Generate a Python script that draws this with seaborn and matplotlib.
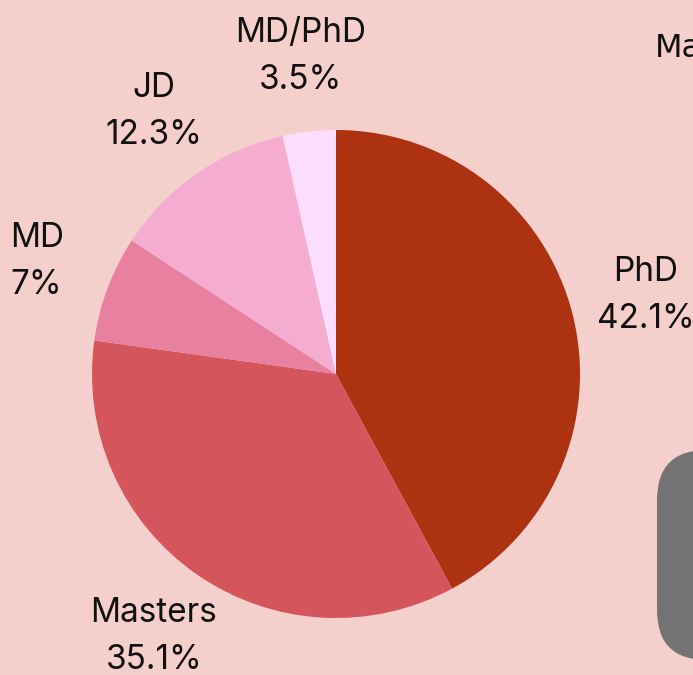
import matplotlib
matplotlib.use("Agg")
import matplotlib.pyplot as plt
from matplotlib.patches import FancyBboxPatch
import seaborn as sns

degrees = ["PhD", "Masters", "MD", "JD", "MD/PhD"]
counts = [24, 20, 4, 7, 2]
slice_colors = ["#AC3211", "#D4565C", "#E8819F", "#F4ADD0", "#FDDDFE"]
bg = "#F5CFCC"

sns.set_theme(style="white")
plt.rcParams["font.family"] = ["Inter", "DejaVu Sans"]

fig = plt.figure(figsize=(6.93, 6.75), dpi=100, facecolor=bg)

# pie axes: centre (336, 374) px, radius 244 px
W, H = 693, 675
cx, cy, r = 336, 374, 244
ax = fig.add_axes([(cx - r) / W, (H - cy - r) / H, 2 * r / W, 2 * r / H])
ax.set_facecolor(bg)

total = sum(counts)
labels = [f"{d}\n{c / total * 100:.1f}".rstrip("0").rstrip(".") + "%" for d, c in zip(degrees, counts)]

wedges, texts = ax.pie(
    counts,
    labels=labels,
    colors=slice_colors,
    startangle=90,
    counterclock=False,
    radius=1,
    labeldistance=1.31,
    wedgeprops=dict(linewidth=0),
    textprops=dict(fontsize=24, color="#111111", ha="center", va="center", linespacing=1.6),
)
for t in texts:
    t.set_horizontalalignment("center")
ax.set_xlim(-1, 1)
ax.set_ylim(-1, 1)
ax.set_aspect("equal")
ax.axis("off")

# cut-off elements on the right edge
fig.text(655 / W, 1 - 57 / H, "Ma", fontsize=23, family="DejaVu Sans", color="#111111", ha="left", va="baseline")
box = FancyBboxPatch((657 + 50, 15 + 50), 200, 210 - 100,
                     boxstyle="round,pad=50", transform=None,
                     facecolor="#737373", edgecolor="none")
fig.patches.append(box)

fig.savefig("out.png", dpi=100, facecolor=bg)
